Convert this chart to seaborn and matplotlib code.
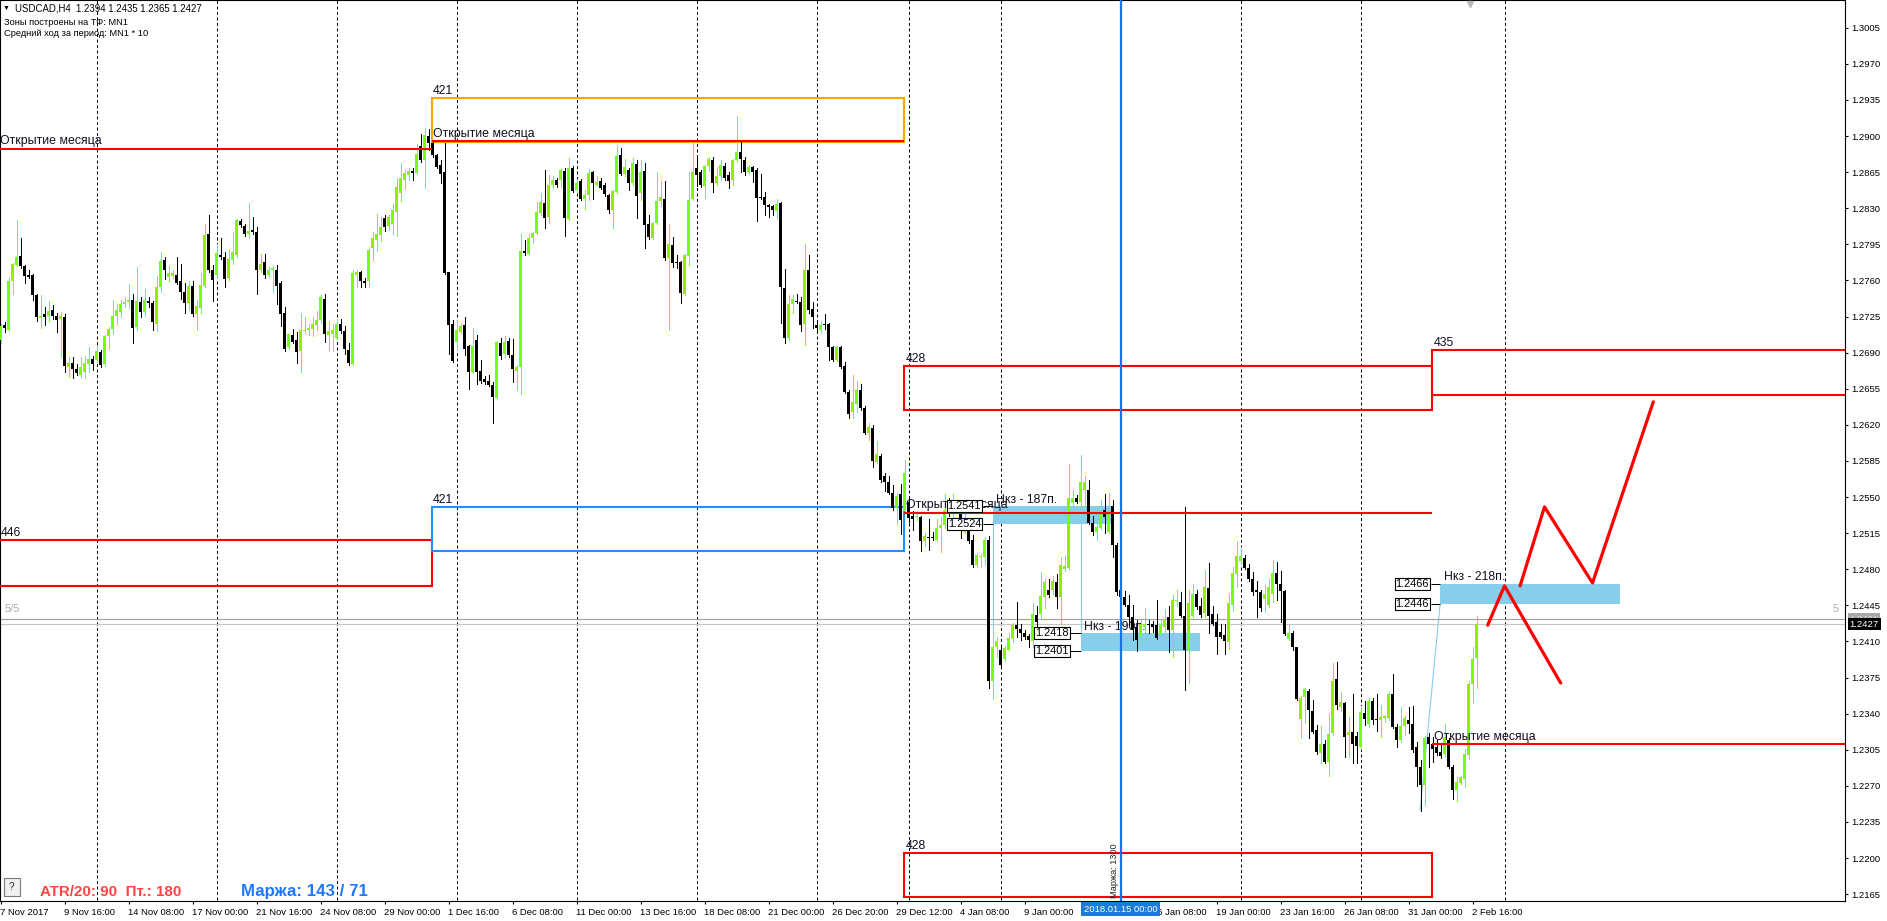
import matplotlib
matplotlib.use("Agg")
import matplotlib.pyplot as plt
import matplotlib.transforms as mtrans
from matplotlib.patches import Rectangle
import numpy as np
import pandas as pd
import seaborn as sns

# ---------------- data (prices in pips, 1e-4) ----------------
opens = [
12702,12717,12712,12759,12775,12784,12774,12765,12765,12746,
12724,12727,12726,12731,12726,12723,12725,12676,12680,12674,
12668,12671,12679,12684,12683,12691,12679,12706,12713,12726,
12729,12737,12739,12741,12715,12739,12729,12740,12738,12718,
12754,12780,12763,12764,12765,12759,12749,12738,12755,12727,
12733,12755,12805,12770,12765,12785,12783,12762,12780,12785,
12818,12813,12805,12809,12807,12770,12778,12765,12770,12770,
12758,12728,12695,12707,12702,12692,12711,12712,12713,12717,
12722,12742,12707,12708,12704,12718,12711,12693,12679,12765,
12768,12759,12759,12791,12799,12804,12821,12813,12815,12826,
12845,12857,12862,12866,12864,12890,12877,12900,12893,12882,
12872,12865,12768,12718,12700,12710,12717,12696,12671,12702,
12672,12664,12663,12659,12646,12699,12689,12701,12688,12672,
12676,12789,12786,12801,12806,12825,12835,12822,12853,12857,
12857,12866,12820,12869,12848,12856,12839,12843,12865,12853,
12856,12853,12843,12828,12846,12882,12863,12867,12854,12873,
12845,12866,12815,12801,12816,12837,12839,12782,12794,12778,
12778,12747,12784,12839,12869,12865,12852,12871,12877,12854,
12861,12871,12862,12857,12877,12885,12877,12865,12870,12867,
12841,12841,12833,12832,12827,12835,12753,12704,12737,12740,
12739,12718,12770,12732,12717,12712,12718,12718,12695,12683,
12695,12677,12652,12632,12640,12654,12636,12612,12617,12584,
12590,12570,12565,12554,12539,12553,12536,12545,12532,12531,
12531,12507,12511,12511,12508,12520,12523,12545,12537,12544,
12537,12516,12523,12508,12484,12492,12492,12508,12372,12405,
12402,12393,12402,12412,12426,12422,12418,12415,12410,12436,
12437,12453,12460,12460,12468,12453,12480,12481,12544,12549,
12545,12557,12557,12525,12516,12520,12537,12516,12541,12504,
12460,12453,12445,12434,12424,12414,12424,12427,12427,12426,
12416,12424,12434,12421,12449,12448,12435,12402,12435,12456,
12444,12438,12462,12437,12429,12419,12416,12409,12445,12475,
12488,12491,12481,12471,12460,12458,12451,12445,12456,12476,
12466,12459,12412,12418,12405,12335,12356,12362,12343,12324,
12302,12311,12293,12321,12374,12346,12350,12319,12322,12318,
12308,12341,12330,12352,12335,12334,12336,12336,12359,12327,
12314,12328,12334,12330,12308,12288,12271,12317,12311,12308,
12303,12301,12314,12288,12266,12273,12277,12300,12369,12394]
highs = [
12718,12720,12763,12777,12819,12801,12775,12770,12766,12747,
12746,12734,12740,12736,12728,12729,12727,12686,12686,12679,
12686,12687,12695,12687,12697,12693,12707,12715,12741,12737,
12741,12744,12757,12747,12773,12744,12752,12744,12740,12764,
12788,12783,12775,12770,12783,12776,12758,12759,12759,12741,
12767,12815,12823,12775,12795,12801,12788,12790,12807,12820,
12820,12815,12835,12822,12812,12786,12786,12773,12774,12775,
12759,12734,12708,12713,12710,12728,12725,12718,12725,12730,
12746,12747,12721,12718,12723,12723,12716,12699,12770,12770,
12769,12762,12792,12807,12824,12822,12823,12823,12834,12859,
12874,12867,12869,12869,12892,12902,12908,12907,12895,12883,
12877,12893,12768,12722,12722,12718,12725,12697,12714,12707,
12683,12667,12668,12662,12701,12704,12706,12704,12703,12678,
12806,12799,12805,12807,12836,12845,12867,12862,12861,12859,
12869,12869,12879,12871,12858,12858,12848,12868,12866,12861,
12859,12854,12844,12848,12891,12888,12878,12869,12879,12877,
12877,12874,12823,12817,12865,12856,12856,12815,12802,12785,
12779,12786,12865,12894,12882,12867,12872,12880,12880,12870,
12877,12874,12865,12878,12919,12894,12880,12872,12871,12869,
12863,12846,12834,12833,12839,12836,12771,12746,12746,12747,
12744,12795,12785,12739,12719,12721,12727,12719,12696,12696,
12696,12681,12654,12668,12663,12660,12638,12622,12620,12604,
12592,12573,12570,12562,12554,12563,12586,12548,12536,12536,
12532,12515,12529,12516,12529,12531,12553,12549,12553,12545,
12541,12544,12524,12513,12496,12495,12511,12512,12406,12414,
12405,12406,12418,12428,12448,12427,12421,12417,12447,12444,
12477,12471,12471,12473,12475,12492,12493,12582,12557,12552,
12566,12570,12567,12532,12528,12547,12553,12554,12547,12505,
12461,12459,12455,12445,12431,12431,12442,12431,12430,12450,
12432,12441,12444,12455,12460,12458,12540,12460,12466,12460,
12452,12479,12486,12444,12437,12427,12427,12456,12482,12507,
12502,12494,12485,12477,12469,12460,12465,12471,12489,12487,
12478,12460,12427,12420,12405,12357,12365,12364,12353,12329,
12328,12314,12340,12389,12390,12361,12351,12337,12359,12322,
12347,12352,12355,12355,12359,12348,12339,12361,12378,12330,
12346,12338,12346,12347,12313,12295,12318,12321,12317,12314,
12311,12330,12316,12290,12279,12280,12306,12372,12405,12435]
lows = [
12699,12710,12711,12747,12774,12772,12758,12762,12741,12721,
12714,12717,12721,12723,12710,12686,12671,12666,12665,12668,
12666,12665,12671,12673,12681,12676,12677,12694,12708,12718,
12725,12734,12733,12699,12712,12725,12726,12734,12712,12711,
12749,12761,12759,12762,12757,12742,12728,12731,12726,12712,
12728,12754,12768,12740,12762,12781,12754,12760,12776,12783,
12812,12803,12801,12805,12747,12768,12762,12763,12749,12737,
12716,12692,12694,12699,12680,12671,12709,12707,12706,12712,
12719,12700,12693,12692,12702,12709,12689,12678,12678,12754,
12754,12754,12754,12780,12789,12798,12808,12809,12805,12803,
12837,12849,12857,12857,12863,12875,12850,12886,12880,12869,
12854,12766,12689,12681,12693,12709,12688,12655,12670,12660,
12661,12660,12658,12622,12645,12684,12686,12686,12662,12654,
12650,12785,12785,12796,12805,12823,12811,12816,12850,12851,
12851,12803,12819,12846,12846,12838,12829,12838,12839,12852,
12849,12842,12825,12811,12845,12862,12861,12848,12853,12821,
12838,12791,12800,12800,12815,12832,12780,12712,12773,12772,
12738,12746,12775,12838,12852,12851,12840,12866,12846,12853,
12857,12857,12850,12853,12876,12865,12862,12863,12855,12818,
12839,12823,12822,12823,12821,12719,12699,12702,12728,12738,
12711,12697,12728,12714,12712,12709,12713,12683,12682,12682,
12675,12651,12627,12627,12632,12634,12611,12605,12579,12583,
12565,12556,12553,12537,12524,12514,12534,12526,12518,12528,
12498,12503,12499,12508,12507,12497,12520,12532,12531,12536,
12510,12515,12505,12482,12482,12482,12484,12365,12354,12395,
12386,12391,12402,12409,12414,12411,12412,12405,12405,12425,
12432,12442,12453,12456,12442,12427,12478,12480,12541,12544,
12544,12541,12524,12513,12508,12519,12515,12515,12492,12455,
12452,12444,12427,12411,12401,12411,12419,12418,12419,12412,
12413,12414,12400,12395,12444,12434,12363,12370,12434,12441,
12434,12434,12418,12426,12398,12413,12398,12403,12440,12463,
12485,12480,12469,12455,12434,12440,12439,12443,12448,12450,
12429,12416,12411,12402,12353,12316,12331,12316,12321,12301,
12292,12292,12280,12319,12345,12343,12298,12298,12292,12292,
12306,12329,12327,12330,12323,12317,12332,12334,12326,12308,
12313,12319,12321,12303,12270,12246,12251,12288,12293,12300,
12297,12298,12287,12257,12255,12272,12269,12296,12350,12365]
closes = [
12716,12714,12759,12776,12783,12774,12764,12763,12746,12725,
12726,12725,12730,12726,12722,12726,12677,12680,12674,12670,
12676,12680,12684,12679,12692,12678,12706,12713,12726,12731,
12737,12739,12741,12714,12740,12729,12741,12738,12720,12754,
12779,12770,12767,12767,12758,12749,12738,12755,12727,12735,
12756,12804,12770,12760,12787,12783,12761,12781,12788,12819,
12814,12805,12808,12807,12770,12776,12765,12770,12772,12755,
12727,12694,12708,12700,12691,12712,12712,12714,12718,12722,
12744,12708,12711,12712,12718,12711,12694,12680,12767,12768,
12759,12758,12790,12801,12805,12812,12812,12822,12828,12851,
12859,12864,12866,12864,12883,12877,12901,12893,12882,12870,
12863,12767,12717,12682,12712,12716,12694,12671,12696,12671,
12663,12662,12659,12647,12700,12687,12700,12688,12674,12676,
12789,12787,12801,12806,12826,12836,12821,12853,12857,12853,
12867,12821,12869,12847,12854,12839,12843,12864,12854,12855,
12850,12844,12828,12847,12881,12863,12870,12854,12874,12842,
12865,12814,12802,12816,12837,12841,12782,12795,12777,12777,
12748,12785,12838,12865,12862,12853,12871,12878,12854,12861,
12872,12859,12856,12877,12885,12878,12865,12870,12865,12840,
12840,12833,12831,12828,12834,12754,12704,12737,12742,12739,
12717,12770,12731,12725,12714,12717,12717,12695,12683,12695,
12676,12652,12631,12642,12654,12636,12612,12618,12585,12592,
12567,12565,12554,12539,12551,12528,12573,12530,12529,12532,
12507,12512,12510,12510,12520,12523,12537,12537,12545,12537,
12528,12528,12507,12484,12494,12493,12508,12372,12405,12410,
12387,12404,12413,12426,12422,12418,12414,12411,12437,12429,
12454,12468,12455,12469,12453,12484,12483,12549,12549,12545,
12565,12565,12525,12516,12521,12534,12531,12536,12504,12458,
12453,12445,12434,12421,12411,12427,12427,12426,12424,12413,
12426,12432,12421,12450,12450,12435,12402,12447,12456,12443,
12436,12463,12435,12427,12414,12414,12410,12447,12476,12493,
12493,12481,12471,12458,12458,12442,12456,12463,12476,12466,
12459,12417,12418,12405,12354,12355,12364,12344,12322,12303,
12311,12293,12320,12372,12348,12351,12317,12322,12311,12309,
12342,12335,12352,12334,12334,12337,12338,12359,12327,12314,
12328,12336,12330,12305,12288,12271,12316,12311,12306,12302,
12299,12317,12288,12266,12274,12279,12301,12369,12393,12427]

x_labels = ["7 Nov 2017", "9 Nov 16:00", "14 Nov 08:00", "17 Nov 00:00",
            "21 Nov 16:00", "24 Nov 08:00", "29 Nov 00:00", "1 Dec 16:00",
            "6 Dec 08:00", "11 Dec 00:00", "13 Dec 16:00", "18 Dec 08:00",
            "21 Dec 00:00", "26 Dec 20:00", "29 Dec 12:00", "4 Jan 08:00",
            "9 Jan 00:00", "11 Jan 16:00", "16 Jan 08:00", "19 Jan 00:00",
            "23 Jan 16:00", "26 Jan 08:00", "31 Jan 00:00", "2 Feb 16:00"]
label_every = 16
price_ticks = [1.3005, 1.2970, 1.2935, 1.2900, 1.2865, 1.2830, 1.2795, 1.2760,
               1.2725, 1.2690, 1.2655, 1.2620, 1.2585, 1.2550, 1.2515, 1.2480,
               1.2445, 1.2410, 1.2375, 1.2340, 1.2305, 1.2270, 1.2235, 1.2200,
               1.2165]
week_starts = [24, 54, 84, 114, 144, 174, 204, 227, 250, 280, 310, 340, 376]

# monthly open levels
month_open = [1.28875, 1.28952, 1.25347, 1.23103]
month_x0 = [-2, 107.8, 225.9, 357.9]
month_x1 = [107.8, 225.9, 357.9, 470]

# monthly range boxes
box_lo = [1.24636, 1.28945, 1.24978, 1.26346, 1.21618, 1.26489]
box_hi = [1.25082, 1.29366, 1.25399, 1.26773, 1.22046, 1.26924]
box_x0 = [-2, 107.8, 107.8, 225.9, 225.9, 357.9]
box_x1 = [107.8, 225.9, 225.9, 357.9, 357.9, 480]
box_txt = ["446", "421", "421", "428", "428", "435"]
box_col = ["#FF0000", "#FFA500", "#1E90FF", "#FF0000", "#FF0000", "#FF0000"]

# demand/supply zones
zone_lo = [1.2524, 1.2401, 1.2446]
zone_hi = [1.2541, 1.2418, 1.2466]
zone_x0 = [248.0, 270.0, 359.9]
zone_x1 = [277.9, 299.9, 404.9]
zone_txt = ["Нкз - 187п.", "Нкз - 190п.", "Нкз - 218п."]
tag_x = [245.5, 267.4, 357.5]

# forecast zigzag
zz_bar = [371.8, 376.0, 390.05, 379.9, 386.0, 398.0, 413.2]
zz_price = [1.24258, 1.24639, 1.23697, 1.24639, 1.25405, 1.24667, 1.26423]
zz_leg = [0, 0, 0, 1, 1, 1, 1]

# thin link lines
link_bar = [[248, 248], [270, 270], [359.9, 354.9]]
link_price = [[1.2354, 1.2524], [1.2418, 1.2591], [1.2446, 1.22463]]

ask_price, bid_price = 1.24314, 1.24269
marker_bar = 280

# ---------------- figure ----------------
sns.set_theme(style="white")
plt.rcParams['font.family'] = ['Liberation Sans', 'DejaVu Sans']

W, H, DPI = 1887, 921, 100
fig = plt.figure(figsize=(W / DPI, H / DPI), dpi=DPI)
fig.patch.set_facecolor("white")
ax = fig.add_axes([0, 20.3 / H, 1845 / W, 900.7 / H])
ax.set_facecolor("white")
ax.set_xlim(-0.125, 461.125)
ax.set_ylim(1.215867, 1.30319)

df = pd.DataFrame({"open": np.array(opens) / 1e4, "high": np.array(highs) / 1e4,
                   "low": np.array(lows) / 1e4, "close": np.array(closes) / 1e4})
df["bar"] = np.arange(len(df))
BULL, BEAR = "#7CFC00", "#000000"
cols = np.where(df["close"] >= df["open"], BULL, BEAR)

# week separators
ax.vlines(week_starts, 1.2, 1.31, colors="black", linestyles=(0, (3, 2.5)),
          lw=0.72, zorder=1)

# zones
for lo, hi, x0, x1, t in zip(zone_lo, zone_hi, zone_x0, zone_x1, zone_txt):
    ax.add_patch(Rectangle((x0, lo), x1 - x0, hi - lo, facecolor="#87CEEB",
                           edgecolor="none", zorder=2))
    ax.annotate(t, (x0, hi), xytext=(3.5, 3.5), textcoords="offset pixels",
                fontsize=8.8, color="#101020", va="baseline", zorder=3)
for lo, hi, xr, x0 in zip(zone_lo, zone_hi, tag_x, zone_x0):
    for p in (hi, lo):
        ax.hlines(p, xr, x0, colors="black", lw=0.7, zorder=3)
        ax.text(xr - 0.35, p, f"{p:.4f}", ha="right", va="center", fontsize=7.9,
                color="black", zorder=8,
                bbox=dict(boxstyle="square,pad=0.1", fc="white", ec="black", lw=0.8))

for (bx, bp) in zip(link_bar, link_price):
    ax.plot(bx, bp, color="#87CEEB", lw=0.8, zorder=2)

# range boxes
for lo, hi, x0, x1, t, c in zip(box_lo, box_hi, box_x0, box_x1, box_txt, box_col):
    ax.add_patch(Rectangle((x0, lo), x1 - x0, hi - lo, fill=False, edgecolor=c,
                           lw=1.5, zorder=3))
    ax.annotate(t, (max(x0, 0), hi), xytext=(1.5 if x0 > 0 else 0, 4),
                textcoords="offset pixels", fontsize=8.8, color="#101020",
                va="baseline", zorder=3)

# candles
ax.vlines(df["bar"], df["low"], df["high"], colors=cols, lw=0.72, zorder=4,
          antialiased=False)
body_lo = np.minimum(df["open"], df["close"])
body_h = np.maximum((df["close"] - df["open"]).abs(), 0.0001)
ax.bar(df["bar"], body_h, bottom=body_lo, width=0.75, color=cols, lw=0,
       zorder=5, antialiased=False)

# monthly open lines
ax.hlines(month_open, month_x0, month_x1, colors="#FF0000", lw=1.5, zorder=6)
for lvl, x0 in zip(month_open, month_x0):
    ax.annotate("Открытие месяца", (max(x0, 0), lvl),
                xytext=(1.5 if x0 > 0 else 0, 4.5), textcoords="offset pixels",
                fontsize=8.9, color="#101020", va="baseline", zorder=7)

# zigzag forecast
zz = pd.DataFrame({"bar": zz_bar, "price": zz_price, "leg": zz_leg})
sns.lineplot(data=zz, x="bar", y="price", units="leg", estimator=None, sort=False,
             color="#FF0000", lw=2.3, ax=ax, zorder=7)

# bid/ask lines
ax.axhline(ask_price, color="#A0A0A0", lw=0.8, zorder=2)
ax.axhline(bid_price, color="#C4C4C4", lw=0.8, zorder=2)
ax.text(1.1, 1.2441, "5/5", fontsize=7.8, color="#ABABAB", va="center", zorder=3)
ax.text(458.0, 1.2441, "5", fontsize=7.8, color="#ABABAB", va="center", zorder=3)

# vertical blue line (selected bar)
ax.axvline(marker_bar, color="#1874E0", lw=1.6, zorder=7)
ax.text(marker_bar - 1.6, 1.2188, "Маржа: 1300", rotation=90, fontsize=6.6,
        ha="center", va="center", color="#202020", zorder=8)

# axes styling
for s in ax.spines.values():
    s.set_color("black")
    s.set_linewidth(0.8)
ax.set_xlabel("")
ax.set_ylabel("")
ax.yaxis.tick_right()
ax.set_yticks(price_ticks)
ax.set_yticklabels([f"{v:.4f}" for v in price_ticks])
ax.tick_params(axis="y", left=False, right=True, labelleft=False, labelright=True,
               direction="out", length=2.5, width=0.8, pad=2, labelsize=6.8,
               colors="black")
ax.set_xticks([label_every * k for k in range(len(x_labels))])
ax.set_xticklabels(x_labels, ha="left")
ax.tick_params(axis="x", bottom=True, direction="out", length=2.5, width=0.8,
               pad=2.5, labelsize=6.8, colors="black")

# price boxes on right axis
bt = mtrans.blended_transform_factory(ax.transAxes, ax.transData)
ax.text(1.0025, ask_price, f"{ask_price:.4f}", transform=bt, ha="left", va="center",
        fontsize=6.8, color="#D8D8D8", clip_on=False, zorder=9,
        bbox=dict(boxstyle="square,pad=0.18", fc="#A8A8A8", ec="none"))
ax.text(1.0025, bid_price, f"{bid_price:.4f}", transform=bt, ha="left", va="center",
        fontsize=6.8, color="white", clip_on=False, zorder=10,
        bbox=dict(boxstyle="square,pad=0.18", fc="black", ec="none"))

# highlighted date label
dt = mtrans.blended_transform_factory(ax.transData, fig.transFigure)
ax.text(marker_bar, 1 - 909 / H, "2018.01.15 00:00", transform=dt, ha="center",
        va="center", fontsize=6.8, color="white", clip_on=False, zorder=10,
        bbox=dict(boxstyle="square,pad=0.25", fc="#1C7CD5", ec="none"))

# small shift marker
ax.plot([367.4], [1.3028], marker="v", ms=4, color="#B8B8B8", clip_on=False, zorder=9)

# header texts
fig.text(3 / W, 1 - 8.5 / H, "▼", fontsize=5, va="center", color="black")
fig.text(15 / W, 1 - 8.5 / H, "USDCAD,H4  1.2394 1.2435 1.2365 1.2427",
         fontsize=6.9, va="center", color="black")
fig.text(4 / W, 1 - 22.3 / H, "Зоны построены на ТФ: MN1", fontsize=6.7,
         va="center", color="black")
fig.text(4 / W, 1 - 33.3 / H, "Средний ход за период: MN1 * 10", fontsize=6.7,
         va="center", color="black")

# bottom-left info
fig.add_artist(Rectangle((3.6 / W, 1 - 896 / H), 16.4 / W, 18 / H,
                         transform=fig.transFigure, facecolor="#F0F0F0",
                         edgecolor="#7A7A7A", lw=0.8))
fig.text(11.8 / W, 1 - 887 / H, "?", fontsize=7, ha="center", va="center")
fig.text(40 / W, 1 - 891.5 / H, "ATR/20: 90  Пт.: 180", fontsize=10.9,
         fontweight="bold", color="#FF4444", va="center")
fig.text(241 / W, 1 - 891.5 / H, "Маржа: 143 / 71", fontsize=12.2,
         fontweight="bold", color="#1E78FF", va="center")

fig.savefig("out.png", dpi=DPI, facecolor="white")
